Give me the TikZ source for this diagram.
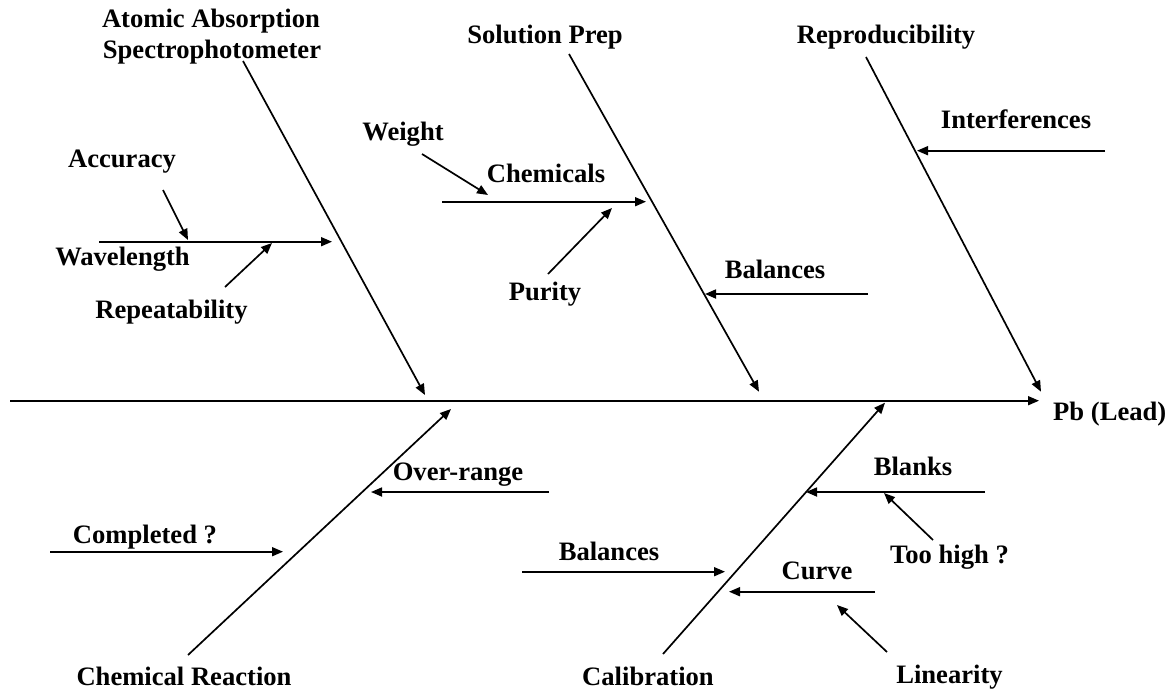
\documentclass[tikz,border=0pt]{standalone}
\usepackage{fontspec}
\setmainfont{Liberation Serif}
\usetikzlibrary{arrows.meta}
\begin{document}
\begin{tikzpicture}[x=1pt,y=-1pt,
  lbl/.style={font=\fontsize{26.6}{30}\selectfont\bfseries, inner sep=0pt, anchor=base},
  bone/.style={line width=1.7pt},
  cause/.style={line width=1.7pt, -{Triangle[length=11pt,width=9pt]}}]
\useasboundingbox (0,0) rectangle (1176,689);

% ---- spine ----
\coordinate (sp0) at (10,400.7);
\coordinate (sp1) at (1039,400.7);
\draw[cause] (sp0) -- (sp1);
\node[lbl,anchor=base west] (pb) at (1053,420) {Pb (Lead)};

% ---- upper bones ----
\node[lbl] (aas1) at (211,27.5) {Atomic Absorption};
\node[lbl] (aas2) at (212,58.3) {Spectrophotometer};
\coordinate (aasS) at (243,61);
\coordinate (aasT) at (425,395);
\draw[cause] (aasS) -- (aasT);

\node[lbl] (sol) at (545,43) {Solution Prep};
\coordinate (solS) at (569,54);
\coordinate (solT) at (759,391.7);
\draw[cause] (solS) -- (solT);

\node[lbl] (rep) at (886,43) {Reproducibility};
\coordinate (repS) at (866,57);
\coordinate (repT) at (1041,391.7);
\draw[cause] (repS) -- (repT);

% instrument causes
\node[lbl] (acc) at (122,167) {Accuracy};
\node[lbl] (wav) at (122.5,265) {Wavelength};
\node[lbl] (rpt) at (171.5,318) {Repeatability};
\coordinate (wavS) at (99,241.7);
\coordinate (wavT) at (332,241.7);
\draw[cause] (wavS) -- (wavT);
\coordinate (accS) at (163,190);
\coordinate (accT) at (188,240);
\draw[cause] (accS) -- (accT);
\coordinate (rptS) at (225,287);
\coordinate (rptT) at (272,243);
\draw[cause] (rptS) -- (rptT);

% solution causes
\node[lbl] (wgt) at (403,140) {Weight};
\node[lbl] (chm) at (546,182) {Chemicals};
\node[lbl] (pur) at (545,300) {Purity};
\node[lbl] (bal1) at (775,278) {Balances};
\coordinate (chmS) at (442,201.7);
\coordinate (chmT) at (646,201.7);
\draw[cause] (chmS) -- (chmT);
\coordinate (wgtS) at (422,154);
\coordinate (wgtT) at (488,195);
\draw[cause] (wgtS) -- (wgtT);
\coordinate (purS) at (548,274);
\coordinate (purT) at (612,208);
\draw[cause] (purS) -- (purT);
\coordinate (bal1S) at (868,294);
\coordinate (bal1T) at (705,294);
\draw[cause] (bal1S) -- (bal1T);

% reproducibility cause
\node[lbl] (int) at (1016,128) {Interferences};
\coordinate (intS) at (1105,150.7);
\coordinate (intT) at (917,150.7);
\draw[cause] (intS) -- (intT);

% ---- lower bones ----
\node[lbl] (rxn) at (184,685) {Chemical Reaction};
\coordinate (rxnS) at (188,655);
\coordinate (rxnT) at (451,409);
\draw[cause] (rxnS) -- (rxnT);

\node[lbl] (cal) at (648,685) {Calibration};
\coordinate (calS) at (663,654);
\coordinate (calT) at (885,402.7);
\draw[cause] (calS) -- (calT);

% reaction causes
\node[lbl] (ovr) at (458,480) {Over-range};
\coordinate (ovrS) at (549,492);
\coordinate (ovrT) at (371,492);
\draw[cause] (ovrS) -- (ovrT);
\node[lbl] (cmp) at (145,543) {Completed ?};
\coordinate (cmpS) at (50,551.7);
\coordinate (cmpT) at (283,551.7);
\draw[cause] (cmpS) -- (cmpT);

% calibration causes
\node[lbl] (blk) at (913,475) {Blanks};
\coordinate (blkS) at (985,492);
\coordinate (blkT) at (806,492);
\draw[cause] (blkS) -- (blkT);
\node[lbl] (toh) at (949.5,563) {Too high ?};
\coordinate (tohS) at (933,540);
\coordinate (tohT) at (884,493);
\draw[cause] (tohS) -- (tohT);

\node[lbl] (bal2) at (609,560) {Balances};
\coordinate (bal2S) at (522,571.7);
\coordinate (bal2T) at (725,571.7);
\draw[cause] (bal2S) -- (bal2T);

\node[lbl] (crv) at (817,579) {Curve};
\coordinate (crvS) at (875,591.7);
\coordinate (crvT) at (729,591.7);
\draw[cause] (crvS) -- (crvT);
\node[lbl] (lin) at (949.5,683) {Linearity};
\coordinate (linS) at (887,652);
\coordinate (linT) at (837,605);
\draw[cause] (linS) -- (linT);
\end{tikzpicture}
\end{document}
